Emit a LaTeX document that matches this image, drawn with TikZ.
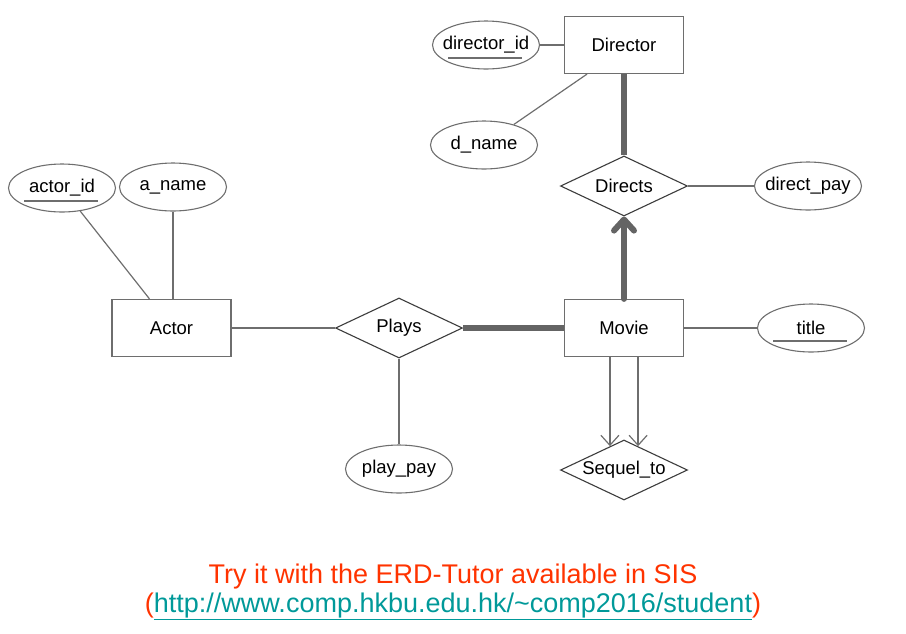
\documentclass[tikz,border=0pt]{standalone}
\usepackage{fontspec}
\setmainfont{Liberation Sans}
\usetikzlibrary{shapes.geometric,arrows.meta,calc}

\definecolor{erline}{RGB}{110,110,110}
\definecolor{erthick}{RGB}{100,100,100}
\definecolor{erdiamond}{RGB}{60,60,60}
\definecolor{tryred}{RGB}{255,51,0}
\definecolor{urlteal}{RGB}{0,153,153}

\newcommand{\attrlabel}[1]{\makebox[0pt]{#1}}

\tikzset{
  entity/.style={draw=erline, line width=1.2pt, rectangle,
    minimum width=119pt, minimum height=57pt, inner sep=0pt},
  relation/.style={draw=erdiamond, line width=1.1pt, diamond, aspect=2.1,
    minimum width=127pt, minimum height=60pt, inner sep=0pt},
  attr/.style={draw=erline, line width=1.1pt, ellipse,
    minimum width=107pt, minimum height=48pt, inner sep=0pt},
  keyattr/.style={attr, path picture={\draw[erline, line width=1.1pt]
    ([shift={(-38pt,-13pt)}]path picture bounding box.center) -- ++(74pt,0);}},
  link/.style={draw=erline, line width=1.2pt},
  total/.style={draw=erthick, line width=6pt},
}

\begin{document}
\begin{tikzpicture}[x=1pt, y=1pt, font=\fontsize{18.5}{20}\selectfont]
		\useasboundingbox (0,0) rectangle (906,-633);

		% entities and relationships
		\node[entity] (director) at (624,-45) {Director};
		\node[entity] (actor) at (171.5,-328) {Actor};
		\node[entity] (movie) at (624,-328) {Movie};

		\node[relation] (directs) at (624,-186) {Directs};
		\node[relation] (plays) at (399,-328) {Plays};
		\node[relation] (sequel) at (624,-470) {Sequel\_to};

		% attributes
		\node[keyattr] (directorid) at (486,-45) {\attrlabel{director\_id}};
		\node[attr] (dname) at (484,-145) {\attrlabel{d\_name}};
		\node[attr] (directpay) at (808,-186) {\attrlabel{direct\_pay}};
		\node[keyattr] (title) at (811,-328) {\attrlabel{title}};
		\node[keyattr] (actorid) at (62,-188) {\attrlabel{actor\_id}};
		\node[attr] (aname) at (173,-187) {\attrlabel{a\_name}};
		\node[attr] (playpay) at (399,-469) {\attrlabel{play\_pay}};

		\draw[link] (directorid) -- (director);
		\draw[link] (dname) -- ([xshift=-37pt]director.south);
		\draw[link] (directs) -- (directpay);
		\draw[link] (movie) -- (title);
		\draw[link] (actorid) -- ([xshift=-22pt]actor.north);
		\draw[link] (aname.south) -- (aname.south |- actor.north);
		\draw[link] (actor) -- (plays);
		\draw[link] (plays) -- (playpay);

		\draw[total] (director) -- (directs);
		\draw[total] (plays) -- (movie);
		\draw[total, line cap=round, -{Straight Barb[length=11pt,width=20pt,round]}]
			(movie) -- (directs);

		% recursive relationship
		\coordinate (seqleft) at ($(sequel.north)!0.22!(sequel.west)$);
		\coordinate (seqright) at ($(sequel.north)!0.22!(sequel.east)$);
		\draw[link, -{Straight Barb[length=10pt,width=18pt]}]
			(movie.south -| seqleft) -- (seqleft);
		\draw[link, -{Straight Barb[length=10pt,width=18pt]}]
			(movie.south -| seqright) -- (seqright);

		\node[anchor=base, text=tryred, font=\fontsize{27}{30}\selectfont] (tryline)
			at (453,-583) {Try it with the ERD-Tutor available in SIS};
		\node[anchor=base, text=tryred, font=\fontsize{27}{30}\selectfont] (urlline)
			at (453,-612) {(\textcolor{urlteal}{\underline{http://www.comp.hkbu.edu.hk/\textasciitilde comp2016/student}})};
	\end{tikzpicture}
\end{document}
